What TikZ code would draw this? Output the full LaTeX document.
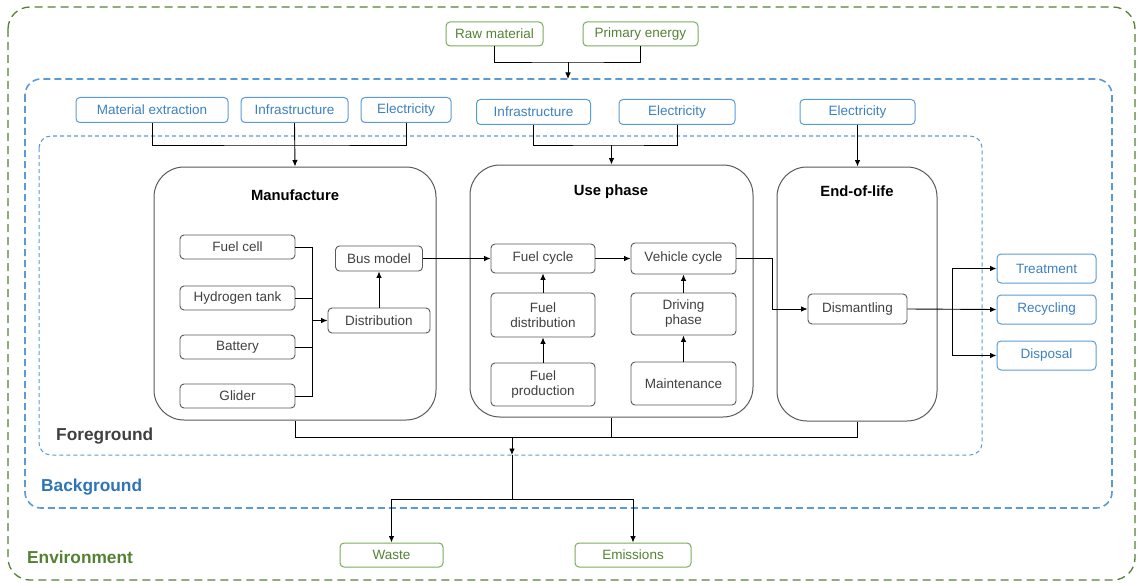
\documentclass[tikz,border=0pt]{standalone}
\usepackage{fontspec}
\setmainfont{Liberation Sans}
\usetikzlibrary{arrows.meta}
\definecolor{envgreen}{RGB}{84,130,53}
\definecolor{boxgreen}{RGB}{122,170,90}
\definecolor{bgblue}{RGB}{46,117,182}
\definecolor{boxblue}{RGB}{91,155,213}
\definecolor{txtblue}{RGB}{61,128,192}
\definecolor{boxgray}{RGB}{89,89,89}
\definecolor{txtgray}{RGB}{64,64,64}

\begin{document}
\begin{tikzpicture}[x=1pt,y=-1pt,
  every node/.style={font=\fontsize{13.5}{15}\selectfont, inner sep=1pt},
  envbox/.style={draw=boxgreen, line width=1pt, rounded corners=4pt, text=envgreen, minimum height=24pt},
  extbox/.style={draw=boxblue, line width=1pt, rounded corners=4pt, text=txtblue, minimum height=25pt},
  stagebox/.style={draw=boxgray, line width=1pt, rounded corners=30pt},
  procbox/.style={draw=boxgray, line width=0.9pt, rounded corners=4pt, text=txtgray, align=center},
  stagetitle/.style={font=\fontsize{14.8}{16}\selectfont\bfseries, text=black},
  regiontitle/.style={font=\fontsize{17.3}{19}\selectfont\bfseries, anchor=west},
  arr/.style={line width=0.9pt, -{Latex[length=6.5pt,width=5.5pt]}},
  wire/.style={line width=0.9pt}]
\useasboundingbox (0,0) rectangle (1137,583);
\draw[envgreen, line width=1.3pt, dash pattern=on 8pt off 5pt, rounded corners=22pt] (8,7) rectangle (1135,580);
\draw[boxblue, line width=1.6pt, dash pattern=on 7pt off 4pt, rounded corners=16pt] (25,79) rectangle (1112,508);
\draw[boxblue, line width=1pt, dash pattern=on 4pt off 3pt, rounded corners=12pt] (39,136) rectangle (982,455);
\node[regiontitle, text=txtgray] (fgtitle) at (55,436) {Foreground};
\node[regiontitle, text=bgblue] (bgtitle) at (40,487) {Background};
\node[regiontitle, text=envgreen] (envtitle) at (26,557) {Environment};

\node[envbox, minimum width=97pt] (raw) at (494.5,34) {Raw material};
\node[envbox, minimum width=115pt] (primary) at (640.5,34) {Primary energy};
\node[envbox, minimum width=103pt] (waste) at (391.5,555) {Waste};
\node[envbox, minimum width=116pt] (emis) at (633,555) {Emissions};

\node[extbox, minimum width=152pt] (matext) at (152,110) {Material extraction};
\node[extbox, minimum width=107pt] (infra1) at (294.5,110) {Infrastructure};
\node[extbox, minimum width=90pt] (elec1) at (406,110) {Electricity};
\node[extbox, minimum width=114pt] (infra2) at (533.5,112) {Infrastructure};
\node[extbox, minimum width=116pt] (elec2) at (677,112) {Electricity};
\node[extbox, minimum width=115pt] (elec3) at (857.5,112) {Electricity};
\node[extbox, minimum width=99pt, minimum height=29pt] (treat) at (1046.5,268.5) {Treatment};
\node[extbox, minimum width=99pt, minimum height=29pt] (recyc) at (1046.5,309.5) {Recycling};
\node[extbox, minimum width=99pt, minimum height=29pt] (disp) at (1046.5,355.5) {Disposal};

\node[stagebox, minimum width=282pt, minimum height=253pt] (manu) at (295,293.5) {};
\node[stagebox, minimum width=283pt, minimum height=252pt] (use) at (611.5,291) {};
\node[stagebox, minimum width=160pt, minimum height=254pt] (eol) at (857,294) {};
\node[stagetitle] (manutitle) at (295,195) {Manufacture};
\node[stagetitle] (usetitle) at (611,192) {Use phase};
\node[stagetitle] (eoltitle) at (857,191) {End-of-life};

\node[procbox, minimum width=115pt, minimum height=24pt] (fuelcell) at (237.5,247) {Fuel cell};
\node[procbox, minimum width=115pt, minimum height=24pt] (htank) at (237.5,298) {Hydrogen tank};
\node[procbox, minimum width=115pt, minimum height=24pt] (battery) at (237.5,347) {Battery};
\node[procbox, minimum width=115pt, minimum height=24pt] (glider) at (237.5,396) {Glider};
\node[procbox, minimum width=102pt, minimum height=25pt] (distr) at (379,320.5) {Distribution};
\node[procbox, minimum width=87pt, minimum height=25pt] (busmodel) at (379,258.5) {Bus model};
\node[procbox, minimum width=104pt, minimum height=29pt] (fcycle) at (543,258.5) {Fuel cycle};
\node[procbox, minimum width=104pt, minimum height=44pt] (fdist) at (543,315) {Fuel\\distribution};
\node[procbox, minimum width=104pt, minimum height=43pt] (fprod) at (543,384.5) {Fuel\\production};
\node[procbox, minimum width=105pt, minimum height=31pt] (vcycle) at (683.5,258.5) {Vehicle cycle};
\node[procbox, minimum width=105pt, minimum height=42pt] (dphase) at (683.5,314) {Driving\\phase};
\node[procbox, minimum width=105pt, minimum height=43pt] (maint) at (683.5,383.5) {Maintenance};
\node[procbox, minimum width=99pt, minimum height=30pt] (dism) at (857.5,309) {Dismantling};

\coordinate (rawj) at (568,62);
\coordinate (bgtop) at (568,79);
\draw[wire] (raw.south) |- (rawj) -| (primary.south);
\draw[arr] (rawj) -- (bgtop);

\coordinate (m1) at (294.5,145);
\draw[wire] (matext.south) |- (m1) -| (elec1.south);
\draw[arr] (infra1.south) -- (manu.north);
\coordinate (u1) at (611.5,145);
\draw[wire] (infra2.south) |- (u1) -| (elec2.south);
\draw[arr] (u1) -- (use.north);
\draw[arr] (elec3.south) -- (elec3.south |- eol.north);

\coordinate (mbus) at (312,320.5);
\draw[wire] (fuelcell.east) -| (mbus);
\draw[wire] (htank.east) -| (mbus);
\draw[wire] (battery.east) -| (mbus);
\draw[wire] (glider.east) -| (mbus);
\draw[arr] (mbus) -- (distr.west);
\draw[arr] (distr.north) -- (busmodel.south);
\draw[arr] (busmodel.east) -- (fcycle.west);
\draw[arr] (fprod.north) -- (fdist.south);
\draw[arr] (fdist.north) -- (fcycle.south);
\draw[arr] (fcycle.east) -- (vcycle.west);
\draw[arr] (maint.north) -- (dphase.south);
\draw[arr] (dphase.north) -- (vcycle.south);
\draw[arr] (vcycle.east) -- ++(36,0) |- (dism.west);

\coordinate (dsplit) at (952,309);
\draw[arr] (dism.east) -- (recyc.west);
\draw[arr] (dsplit) |- (treat.west);
\draw[arr] (dsplit) |- (disp.west);

\coordinate (fgj) at (512,437.5);
\coordinate (fgb) at (512,455);
\coordinate (wsplit) at (512,499);
\draw[wire] (manu.south) |- (fgj) -| (eol.south);
\draw[wire] (use.south) -- (use.south |- fgj);
\draw[arr] (fgj) -- (fgb);
\draw[wire] (fgb) -- (wsplit);
\draw[arr] (wsplit) -| (waste.north);
\draw[arr] (wsplit) -| (emis.north);
\end{tikzpicture}
\end{document}
